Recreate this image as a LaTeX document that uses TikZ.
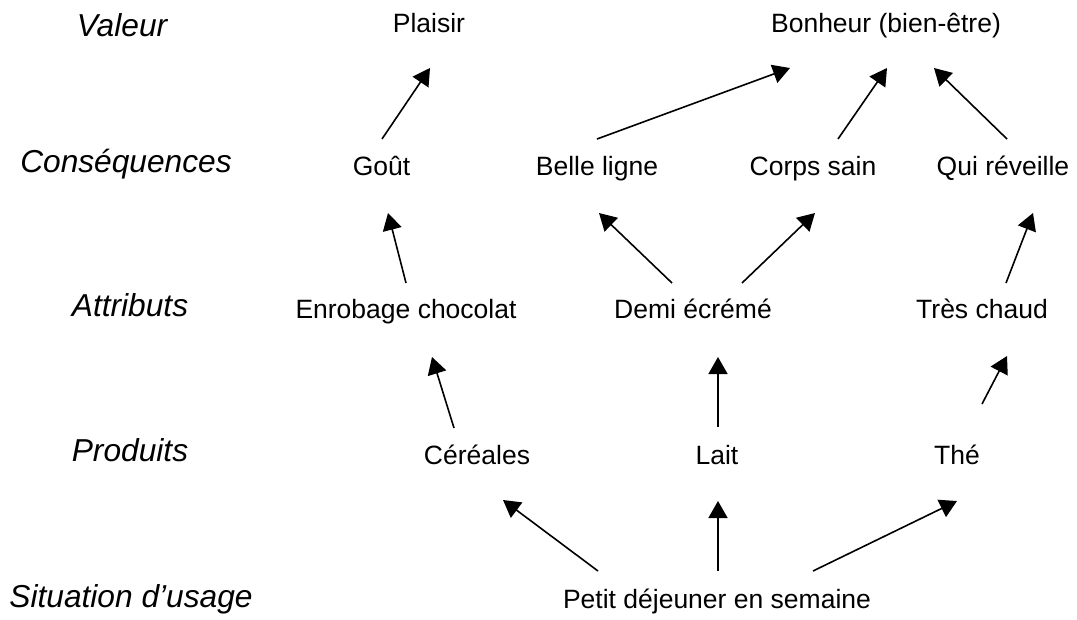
\documentclass[tikz,border=0pt]{standalone}
\usepackage{fontspec}
\setmainfont{Liberation Sans}
\usetikzlibrary{arrows.meta}
\begin{document}
\begin{tikzpicture}[x=1pt,y=-1pt,
  item/.style={anchor=base,inner sep=0pt,font=\fontsize{26.5}{30}\selectfont},
  level/.style={anchor=base,inner sep=0pt,font=\fontsize{31.7}{36}\selectfont\itshape},
  arr/.style={line width=1.6pt,-{Triangle[length=17pt,width=19pt]}}]
\useasboundingbox (0,0) rectangle (1077,619);
% level labels
\node[level] (lv) at (122,36) {Valeur};
\node[level] (lc) at (126,172) {Conséquences};
\node[level] (la) at (130,316) {Attributs};
\node[level] (lp) at (130,461) {Produits};
\node[level] (ls) at (131,607) {Situation d’usage};
% items
\node[item] (plaisir) at (429,32) {Plaisir};
\node[item] (bonheur) at (886,32) {Bonheur (bien-être)};
\node[item] (gout) at (381.5,175) {Goût};
\node[item] (belle) at (597,175) {Belle ligne};
\node[item] (corps) at (813,175) {Corps sain};
\node[item] (qui) at (1003,175) {Qui réveille};
\node[item] (enrob) at (406,318) {Enrobage chocolat};
\node[item] (demi) at (693,318) {Demi écrémé};
\node[item] (tres) at (982,318) {Très chaud};
\node[item] (cer) at (477,464) {Céréales};
\node[item] (lait) at (717,464) {Lait};
\node[item] (the) at (957,464) {Thé};
\node[item] (petit) at (717,608) {Petit déjeuner en semaine};
% arrow ends
\coordinate (gout-t) at (382,139);   \coordinate (plaisir-h) at (430,68);
\coordinate (belle-t) at (597,139);  \coordinate (bonheur-h1) at (790,68);
\coordinate (corps-t) at (838,139);  \coordinate (bonheur-h2) at (887,68);
\coordinate (qui-t) at (1007,139);   \coordinate (bonheur-h3) at (934,68);
\coordinate (enrob-t) at (406,283);  \coordinate (gout-h) at (388,213);
\coordinate (demi-t1) at (672,283);  \coordinate (belle-h) at (599,213);
\coordinate (demi-t2) at (742,283);  \coordinate (corps-h) at (815,213);
\coordinate (tres-t) at (1006,283);  \coordinate (qui-h) at (1033,213);
\coordinate (cer-t) at (454,428);    \coordinate (enrob-h) at (432,357);
\coordinate (lait-t) at (718,427);   \coordinate (demi-h) at (718,357);
\coordinate (the-t) at (982,404);    \coordinate (tres-h) at (1007,356);
\coordinate (petit-t1) at (598,571); \coordinate (cer-h) at (503,500);
\coordinate (petit-t2) at (718,571); \coordinate (lait-h) at (718,501);
\coordinate (petit-t3) at (813,571); \coordinate (the-h) at (957,501);
% arrows
\draw[arr] (gout-t) -- (plaisir-h);
\draw[arr] (belle-t) -- (bonheur-h1);
\draw[arr] (corps-t) -- (bonheur-h2);
\draw[arr] (qui-t) -- (bonheur-h3);
\draw[arr] (enrob-t) -- (gout-h);
\draw[arr] (demi-t1) -- (belle-h);
\draw[arr] (demi-t2) -- (corps-h);
\draw[arr] (tres-t) -- (qui-h);
\draw[arr] (cer-t) -- (enrob-h);
\draw[arr] (lait-t) -- (demi-h);
\draw[arr] (the-t) -- (tres-h);
\draw[arr] (petit-t1) -- (cer-h);
\draw[arr] (petit-t2) -- (lait-h);
\draw[arr] (petit-t3) -- (the-h);
\end{tikzpicture}
\end{document}
